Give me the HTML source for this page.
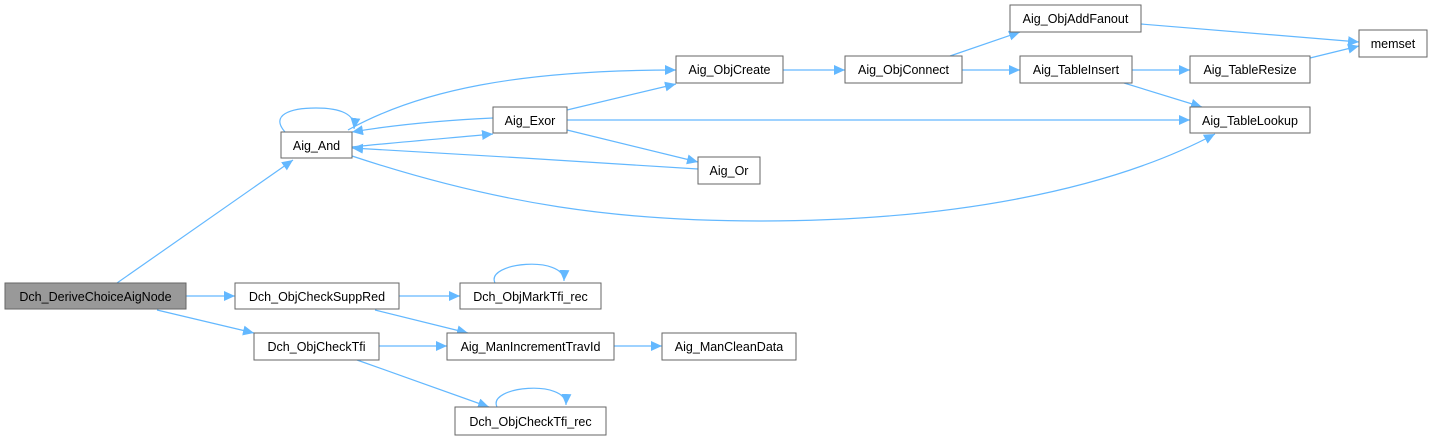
<!DOCTYPE html>
<html><head><meta charset="utf-8"><style>
body{margin:0;background:#fff;width:1429px;height:440px;overflow:hidden}
svg text{font-family:"Liberation Sans",Arial,sans-serif;font-size:12.5px;fill:#000}
</style></head><body>
<svg width="1429" height="440" viewBox="0 0 1429 440" xmlns="http://www.w3.org/2000/svg">
<defs><marker id="a" markerWidth="12" markerHeight="10" refX="11" refY="5" orient="auto" markerUnits="userSpaceOnUse"><polygon points="0,0 11,5 0,10" fill="#63b8ff"/></marker></defs>
<g fill="none" stroke="#63b8ff" stroke-width="1.2" marker-end="url(#a)">
<path d="M117,283 L293,160"/>
<path d="M186,296 L235,296"/>
<path d="M157,310 L254,333"/>
<path d="M285,132 C270,115 290,108 316,108 C340,108 356,114 354,129"/>
<path d="M352,147 C400,142 450,138 493,134"/>
<path d="M493,118 C450,120 400,124 352,132"/>
<path d="M698,169 C600,162 450,154 352,148"/>
<path d="M348,130 C420,90 520,70 676,70"/>
<path d="M352,156 C500,205 620,221 760,221 C950,221 1110,190 1215,134"/>
<path d="M567,110 L676,84"/>
<path d="M567,120 L1190,120"/>
<path d="M567,130 L698,162"/>
<path d="M783,70 L845,70"/>
<path d="M950,56 L1020,32"/>
<path d="M962,70 L1020,70"/>
<path d="M1141,24 L1359,42"/>
<path d="M1132,70 L1190,70"/>
<path d="M1124,83 L1202,107"/>
<path d="M1310,58 L1359,46"/>
<path d="M399,296 L460,296"/>
<path d="M375,310 L468,333"/>
<path d="M495,283 C485,262 565,255 564,281"/>
<path d="M379,346 L447,346"/>
<path d="M614,346 L662,346"/>
<path d="M357,360 L489,407"/>
<path d="M497,407 C487,386 567,379 566,405"/>
</g>
<g stroke="#666" stroke-width="1" fill="#fff">
<rect x="5" y="283" width="181" height="26" fill="#999"/>
<rect x="281" y="132" width="71" height="26"/>
<rect x="493" y="107" width="74" height="26"/>
<rect x="676" y="56" width="107" height="27"/>
<rect x="698" y="157" width="62" height="27"/>
<rect x="235" y="283" width="164" height="26"/>
<rect x="460" y="283" width="141" height="26"/>
<rect x="254" y="333" width="125" height="27"/>
<rect x="447" y="333" width="167" height="27"/>
<rect x="662" y="333" width="134" height="27"/>
<rect x="455" y="407" width="151" height="28"/>
<rect x="845" y="56" width="117" height="27"/>
<rect x="1010" y="5" width="131" height="27"/>
<rect x="1020" y="56" width="112" height="27"/>
<rect x="1190" y="56" width="120" height="27"/>
<rect x="1190" y="107" width="120" height="26"/>
<rect x="1359" y="30" width="68" height="27"/>
</g>
<g text-anchor="middle">
<text x="95.5" y="301">Dch_DeriveChoiceAigNode</text>
<text x="316.5" y="150">Aig_And</text>
<text x="530" y="125">Aig_Exor</text>
<text x="729.5" y="74">Aig_ObjCreate</text>
<text x="729" y="175">Aig_Or</text>
<text x="317" y="301">Dch_ObjCheckSuppRed</text>
<text x="530.5" y="301">Dch_ObjMarkTfi_rec</text>
<text x="316.5" y="351">Dch_ObjCheckTfi</text>
<text x="530.5" y="351">Aig_ManIncrementTravId</text>
<text x="729" y="351">Aig_ManCleanData</text>
<text x="530.5" y="426">Dch_ObjCheckTfi_rec</text>
<text x="903.5" y="74">Aig_ObjConnect</text>
<text x="1075.5" y="23">Aig_ObjAddFanout</text>
<text x="1076" y="74">Aig_TableInsert</text>
<text x="1250" y="74">Aig_TableResize</text>
<text x="1250" y="125">Aig_TableLookup</text>
<text x="1393" y="48">memset</text>
</g>
</svg>
</body></html>
